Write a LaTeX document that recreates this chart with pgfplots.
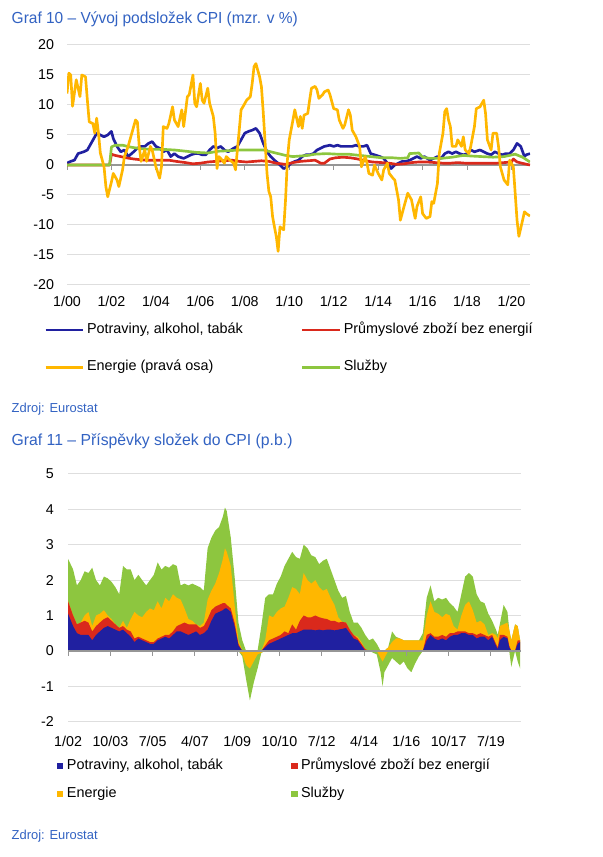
\documentclass[border=0pt]{standalone}
\usepackage{fontspec}
\setmainfont{Liberation Sans}
\usepackage{graphicx}
\usepackage{pgfplots}
\usepackage{pgfplotstable}
\pgfplotsset{compat=1.18}

\definecolor{titleblue}{RGB}{50,98,194}
\definecolor{gridgray}{RGB}{222,222,222}
\definecolor{zerogray}{RGB}{150,150,150}
\definecolor{cblue}{RGB}{32,32,160}
\definecolor{cred}{RGB}{218,41,28}
\definecolor{corange}{RGB}{255,183,0}
\definecolor{cgreen}{RGB}{141,198,63}

% ---------- Graf 10 data (x = months since 1/2000) ----------
\pgfplotstableread{
x y
0 0.3
2 0.6
4 0.8
6 1.9
9 2.2
11 2.5
13 3.6
15 4.7
16 5.3
18 5.0
20 4.7
22 5.0
24 5.6
25 4.4
27 3.1
29 2.2
31 2.5
33 1.4
36 2.2
38 2.8
40 3.1
42 3.1
44 3.6
46 3.9
48 3.1
50 2.8
52 2.2
54 2.5
56 1.4
58 1.9
60 1.4
63 1.1
65 1.4
67 1.7
69 1.9
71 1.9
73 1.7
75 1.7
77 2.5
79 3.1
81 2.8
83 3.1
85 2.5
87 2.2
90 2.8
92 3.1
94 4.2
96 5.3
98 5.6
100 5.8
102 6.1
104 5.3
106 3.6
108 2.2
110 1.4
112 0.8
114 0.3
117 -0.6
119 -0.3
121 0.3
123 0.6
125 0.8
127 1.4
129 1.7
131 1.7
133 1.9
135 2.5
137 2.8
139 3.1
142 3.3
144 3.1
146 3.3
148 3.1
150 3.1
152 3.1
154 3.1
156 3.3
158 3.1
160 3.1
162 3.3
164 1.9
166 1.7
169 1.4
171 1.1
173 0.3
175 -0.6
177 0.0
179 0.3
181 0.6
183 0.6
185 0.8
187 1.1
189 1.4
191 1.1
193 1.4
196 0.8
198 1.1
200 1.4
202 1.1
204 1.9
206 2.2
208 1.9
210 2.2
212 1.9
214 1.7
216 1.9
218 2.5
220 2.2
223 2.5
225 2.2
227 1.9
229 1.7
231 2.2
233 1.9
235 1.7
237 1.9
239 1.9
241 2.5
243 3.6
245 3.1
247 1.4
248 1.7
250 1.9
}\food

\pgfplotstableread{
x y
0 0
23 0
24 1.8
26 1.6
29 1.4
32 1.2
36 1.0
39 0.9
43 0.8
47 0.8
51 0.8
55 0.8
59 0.6
64 0.4
68 0.2
72 0.3
76 0.5
80 0.6
84 0.7
89 0.8
93 0.6
97 0.5
101 0.6
105 0.7
109 0.6
113 0.3
118 0.1
122 0.4
126 0.6
130 0.7
134 0.8
137 0.3
139 0.3
142 1.0
145 1.2
149 1.3
153 1.2
157 1.0
161 0.7
165 0.5
170 0.4
174 0.3
178 0.1
182 0.2
186 0.4
190 0.5
194 0.5
199 0.4
203 0.3
207 0.3
211 0.4
215 0.3
219 0.3
224 0.3
228 0.3
232 0.3
236 0.4
240 0.5
241 1.0
243 0.5
247 0.2
250 0.0
}\industry

\pgfplotstableread{
x y
0 11.9
1 15.3
2 15.0
3 9.8
4 12.0
5 14.2
7 11.4
8 15.0
10 14.7
11 10.8
12 7.2
14 6.9
15 5.3
16 7.8
17 5.3
18 2.0
20 -0.3
21 -3.6
22 -5.3
24 -2.8
25 -1.4
27 -2.5
28 -3.6
30 -0.8
31 1.4
33 3.1
35 5.3
37 7.5
38 7.2
39 3.1
40 0.6
42 2.5
43 0.6
45 3.1
46 2.5
48 -0.3
50 -2.2
51 -0.3
52 6.4
54 6.1
55 6.9
57 9.7
58 7.5
60 6.4
62 9.2
63 6.4
65 11.4
66 11.7
68 15.0
69 10.3
70 9.7
72 13.6
73 10.8
74 10.3
76 12.8
77 10.3
79 8.1
80 5.3
81 -0.6
82 1.4
83 1.1
85 0.3
86 1.4
88 0.8
90 0.3
91 -0.8
92 2.5
94 9.2
95 9.7
97 10.8
98 11.1
99 11.4
100 13.6
101 16.4
102 16.9
104 14.7
105 13.0
106 8.6
107 3.6
108 -1.4
109 -4.4
110 -5.3
111 -8.6
112 -10.3
113 -11.9
114 -14.4
115 -10.3
117 -10.8
118 -5.8
119 0.8
120 4.2
122 7.5
123 9.2
125 6.4
126 8.1
127 6.1
128 8.3
130 8.6
131 10.8
132 12.8
134 13.1
135 12.5
136 11.1
138 11.7
139 12.2
141 12.5
142 11.7
144 9.4
146 9.2
147 7.5
149 6.1
150 6.7
152 9.2
153 8.3
154 5.8
156 4.7
158 3.1
159 -0.3
161 1.4
162 0.3
163 -1.4
165 -1.7
166 0.0
168 -1.4
170 -2.5
171 -0.8
173 0.3
174 -1.4
176 -2.2
177 -2.5
179 -5.8
180 -9.2
182 -6.9
183 -5.8
184 -4.7
186 -5.8
188 -8.9
189 -6.9
191 -5.3
192 -8.1
194 -8.9
196 -8.6
197 -6.1
198 -6.4
200 -3.1
201 1.9
203 5.3
204 8.9
205 9.4
206 7.5
207 6.4
208 3.1
210 3.1
211 4.2
213 3.1
214 4.7
215 2.5
217 1.9
218 3.1
220 6.4
221 9.4
223 9.7
225 10.8
226 8.6
227 4.2
229 2.5
230 5.3
232 5.3
233 3.1
234 -0.3
236 -2.5
238 -3.3
239 0.8
241 -0.3
242 -4.7
243 -9.2
244 -11.9
246 -9.2
247 -7.8
248 -8.1
250 -8.5
}\energy

\pgfplotstableread{
x y
0 0
23 0
24 3.0
26 3.3
30 3.3
34 3.0
40 2.7
46 2.6
52 2.6
58 2.5
64 2.3
70 2.1
76 2.0
82 2.3
88 2.4
94 2.5
100 2.5
106 2.5
110 2.2
114 1.9
118 1.6
122 1.4
126 1.5
130 1.6
134 1.8
140 1.9
146 1.8
152 1.8
158 1.6
164 1.4
170 1.2
176 1.2
180 1.1
184 1.2
185 1.9
190 2.0
192 1.3
196 1.1
202 1.1
208 1.3
214 1.6
218 1.5
224 1.4
230 1.3
236 1.4
242 1.8
246 1.3
250 0.5
}\services

% ---------- Graf 11 data (x = months since 1/2002) ----------
% visible tops of the stacked layers above zero (bp, rp, op, gp)
% and visible bottoms of the layers below zero (on, gn), p.b.
\pgfplotstableread{
x bp rp op gp on gn
0 1.05 1.4 1.4 2.6 0 0
2.5 0.7 1.0 1.0 2.3 0 0
4.4 0.5 0.75 0.75 1.85 0 0
6.3 0.45 0.8 0.8 2.0 0 0
8.2 0.45 0.85 1.0 2.25 0 0
10.1 0.45 0.8 1.1 2.2 0 0
12.0 0.3 0.55 0.7 2.35 0 0
13.9 0.45 0.7 1.0 2.0 0 0
15.8 0.55 0.8 1.05 1.85 0 0
17.8 0.65 0.9 1.15 2.1 0 0
19.7 0.7 0.95 1.0 2.05 0 0
21.6 0.65 0.85 0.9 1.95 0 0
23.5 0.6 0.75 0.75 1.8 0 0
25.4 0.55 0.65 0.65 1.6 0 0
27.3 0.6 0.7 0.85 2.4 0 0
29.2 0.5 0.6 0.65 2.3 0 0
31.1 0.4 0.55 0.9 2.3 0 0
33.0 0.25 0.35 1.1 2.0 0 0
34.9 0.35 0.4 1.0 2.15 0 0
36.8 0.3 0.35 0.95 2.0 0 0
38.8 0.25 0.3 1.1 1.85 0 0
40.7 0.2 0.25 1.2 2.0 0 0
42.6 0.2 0.25 1.15 2.15 0 0
44.5 0.3 0.35 1.4 2.5 0 0
46.4 0.35 0.4 1.2 2.3 0 0
48.3 0.4 0.45 1.5 2.4 0 0
50.2 0.35 0.45 1.4 2.35 0 0
52.1 0.45 0.55 1.6 2.45 0 0
54.0 0.55 0.7 1.5 2.4 0 0
55.9 0.55 0.75 1.45 1.85 0 0
57.8 0.5 0.8 1.2 1.9 0 0
59.8 0.45 0.75 0.9 1.85 0 0
61.7 0.5 0.75 0.85 1.9 0 0
63.6 0.55 0.75 0.75 1.85 0 0
65.5 0.45 0.65 0.7 1.8 0 0
67.4 0.5 0.7 0.8 1.7 0 0
69.3 0.6 0.9 1.45 2.9 0 0
71.2 0.85 1.15 1.7 3.2 0 0
73.1 1.05 1.25 1.9 3.4 0 0
75.0 1.1 1.3 2.2 3.5 0 0
76.9 1.15 1.35 2.6 3.8 0 0
77.9 1.2 1.35 2.9 4.05 0 0
78.8 1.2 1.3 2.8 3.95 0 0
80.8 1.1 1.2 2.4 3.2 0 0
82.7 0.7 0.8 1.3 2.1 0 0
84.6 0.15 0.2 0.3 0.8 0 0
86.5 0 0 0 0.3 -0.1 -0.15
88.4 0 0 0 0 -0.4 -0.8
90.3 0 0 0 0 -0.5 -1.4
92.2 0 0 0 0 -0.3 -0.9
94.1 0 0 0 0 -0.1 -0.5
96.0 0 0 0 0.7 -0.05 -0.05
97.9 0.1 0.15 0.3 1.5 0 0
99.8 0.2 0.3 1.0 1.6 0 0
101.8 0.25 0.35 0.95 1.6 0 0
103.7 0.3 0.4 1.1 1.9 0 0
105.6 0.35 0.45 1.2 2.1 0 0
107.5 0.4 0.55 1.25 2.4 0 0
109.4 0.45 0.5 1.5 2.6 0 0
111.3 0.5 0.75 1.8 2.8 0 0
113.2 0.5 0.6 1.75 2.65 0 0
115.1 0.55 0.85 1.6 2.6 0 0
117.0 0.6 1.0 2.2 3.0 0 0
118.9 0.6 0.95 2.0 2.9 0 0
120.8 0.6 0.95 1.9 2.7 0 0
122.8 0.58 1.0 2.0 2.65 0 0
124.7 0.6 0.95 1.8 2.45 0 0
126.6 0.58 0.92 1.7 2.55 0 0
128.5 0.6 0.9 1.75 2.6 0 0
130.4 0.6 0.85 1.5 2.3 0 0
132.3 0.58 0.85 1.3 2.0 0 0
134.2 0.6 0.8 0.95 1.7 0 0
136.1 0.62 0.82 0.82 1.5 0 0
138.0 0.65 0.8 0.8 1.55 0 0
139.9 0.5 0.6 0.6 1.1 0 0
141.8 0.35 0.45 0.45 0.8 0 0
143.8 0.3 0.35 0.4 0.8 0 0
145.7 0.15 0.2 0.25 0.65 0 0
147.6 0 0.05 0.05 0.45 0 0
149.5 0 0 0 0.3 0 0
151.4 0 0 0 0.35 0 -0.05
153.3 0 0 0 0.2 0 -0.1
155.2 0 0 0 0 -0.2 -0.6
156.2 0 0 0 0 -0.3 -1.0
157.1 0 0 0 0 -0.2 -0.6
159.0 0 0 0.1 0.1 0 -0.4
160.9 0 0 0.25 0.55 0 -0.2
162.8 0 0 0.35 0.4 0 -0.3
164.8 0 0 0.35 0.35 0 -0.4
166.7 0 0 0.3 0.3 0 -0.3
168.6 0 0 0.3 0.3 0 -0.5
170.5 0 0 0.3 0.3 0 -0.6
172.4 0 0 0.3 0.3 0 -0.35
174.3 0 0 0.3 0.3 0 -0.15
176.2 0 0 0.3 0.5 0 0
178.1 0.3 0.45 1.0 1.5 0 0
180.0 0.45 0.5 1.4 1.85 0 0
181.9 0.35 0.4 1.1 1.4 0 0
183.8 0.3 0.4 1.05 1.5 0 0
185.8 0.35 0.45 0.95 1.45 0 0
187.7 0.3 0.4 1.05 1.5 0 0
189.6 0.4 0.5 1.0 1.35 0 0
191.5 0.45 0.5 0.7 1.25 0 0
193.4 0.45 0.55 0.6 1.1 0 0
195.3 0.5 0.55 1.0 1.6 0 0
197.2 0.5 0.55 1.3 2.1 0 0
199.1 0.45 0.5 1.4 2.2 0 0
201.0 0.45 0.5 1.15 2.1 0 0
202.9 0.35 0.45 0.8 1.6 0 0
204.8 0.4 0.5 0.85 1.4 0 0
206.8 0.4 0.45 0.75 1.35 0 0
208.7 0.3 0.4 0.45 1.05 0 0
210.6 0.4 0.45 0.5 0.85 0 0
212.5 0.15 0.2 0.45 0.6 0 0
213.4 0.05 0.1 0.35 0.45 0 0
214.4 0.3 0.45 0.7 0.75 0 0
216.3 0.4 0.45 0.75 1.3 0 0
218.2 0.35 0.4 0.8 1.1 0 0
219.1 0.1 0.15 0.6 0.6 0 0
220.1 0 0 0.3 0.3 0 -0.45
222.0 0 0 0.75 0.75 0 0
223.3 0.2 0.3 0.7 0.7 0 -0.3
224.5 0.25 0.3 0.3 0.3 0 -0.5
}\contrib

\newcommand{\tickfont}{\fontsize{10.7pt}{12pt}\selectfont}
\newcommand{\legfont}{\fontsize{10.8pt}{12pt}\selectfont}

\begin{document}
\begin{tikzpicture}
\path[use as bounding box] (0,0) rectangle (452.25pt,642.75pt);

% titles and sources
\node[anchor=base west, inner sep=0pt, text=titleblue] at (8.6pt,624.75pt)
  {\resizebox{214.5pt}{\height}{\fontsize{12pt}{14pt}\selectfont Graf 10 – Vývoj podsložek CPI (mzr. v \%)}};
\node[anchor=base west, inner sep=0pt, text=titleblue] at (8.6pt,333.2pt)
  {\resizebox{64.4pt}{\height}{\fontsize{9.75pt}{11pt}\selectfont Zdroj: Eurostat}};
\node[anchor=base west, inner sep=0pt, text=titleblue] at (8.6pt,308.25pt)
  {\resizebox{210.6pt}{\height}{\fontsize{12pt}{14pt}\selectfont Graf 11 – Příspěvky složek do CPI (p.b.)}};
\node[anchor=base west, inner sep=0pt, text=titleblue] at (8.6pt,12.75pt)
  {\resizebox{64.4pt}{\height}{\fontsize{9.75pt}{11pt}\selectfont Zdroj: Eurostat}};

% ---------------- Graf 10 ----------------
\begin{axis}[
  at={(50.25pt,429pt)}, anchor=south west,
  scale only axis, width=347.25pt, height=180pt,
  xmin=0, xmax=250, ymin=-20, ymax=20,
  axis line style={draw=none}, tick style={draw=none},
  ytick={-20,-15,-10,-5,0,5,10,15,20},
  yticklabels={-20,-15,-10,-5,0,5,10,15,20},
  xtick={0,24,48,72,96,120,144,168,192,216,240},
  xticklabels={1/00,1/02,1/04,1/06,1/08,1/10,1/12,1/14,1/16,1/18,1/20},
  tick label style={font=\tickfont},
  yticklabel style={xshift=-6.25pt},
  xticklabel style={yshift=-5pt},
  ymajorgrids, grid style={draw=gridgray, line width=0.75pt},
  legend columns=2,
  legend cell align=left,
  legend image code/.code={\draw[#1, line width=2.2pt] (0pt,0pt) -- (28pt,0pt);},
  legend style={at={(-0.0495,-0.2652)}, anchor=west, draw=none, fill=none,
    inner sep=0pt, outer sep=0pt, font=\legfont,
    nodes={inner sep=0pt, text height=7.6pt, text depth=2.6pt},
    row sep=17.8pt,
    /tikz/every odd column/.append style={column sep=2pt},
    /tikz/every even column/.append style={column sep=43.5pt}},
]
\draw[zerogray, line width=1.1pt] (axis cs:0,0) -- (axis cs:250,0);
\pgfplotsinvokeforeach{0,24,48,72,96,120,144,168,192,216,240}{
  \draw[zerogray, line width=0.75pt] (axis cs:#1,0) -- ++(0pt,-3.75pt);
}
\addplot[cblue, line width=2pt, line join=round, forget plot] table[x=x,y=y] {\food};
\addplot[cred, line width=2pt, line join=round, forget plot] table[x=x,y=y] {\industry};
\addplot[cgreen, line width=2pt, line join=round, forget plot] table[x=x,y=y] {\services};
\addplot[corange, line width=2pt, line join=round, forget plot] table[x=x,y=y] {\energy};
\addlegendimage{draw=cblue}
\addlegendentry{Potraviny, alkohol, tabák}
\addlegendimage{draw=cred}
\addlegendentry{Průmyslové zboží bez energií}
\addlegendimage{draw=corange}
\addlegendentry{Energie (pravá osa)}
\addlegendimage{draw=cgreen}
\addlegendentry{Služby}
\end{axis}

% ---------------- Graf 11 ----------------
\begin{axis}[
  at={(51.05pt,101.5pt)}, anchor=south west,
  scale only axis, width=339.8pt, height=185.8pt,
  xmin=0, xmax=225, ymin=-2, ymax=5,
  axis line style={draw=none}, tick style={draw=none},
  ytick={-2,-1,0,1,2,3,4,5},
  yticklabels={-2,-1,0,1,2,3,4,5},
  xtick={0,21,42,63,84,105,126,147,168,189,210},
  xticklabels={1/02,10/03,7/05,4/07,1/09,10/10,7/12,4/14,1/16,10/17,7/19},
  tick label style={font=\tickfont},
  yticklabel style={xshift=-7.2pt},
  xticklabel style={yshift=-7.5pt},
  ymajorgrids, grid style={draw=gridgray, line width=0.75pt},
  legend columns=2,
  legend cell align=left,
  legend image code/.code={\fill[#1, draw=none] (0pt,-2.45pt) rectangle (4.9pt,2.45pt);},
  legend style={at={(-0.0245,-0.2354)}, anchor=west, draw=none, fill=none,
    inner sep=0pt, outer sep=0pt, font=\legfont,
    nodes={inner sep=0pt, text height=7.6pt, text depth=2.6pt},
    row sep=10.8pt,
    /tikz/every odd column/.append style={column sep=2.6pt},
    /tikz/every even column/.append style={column sep=51.2pt}},
]
% layers above zero, outermost first
\addplot[fill=cgreen, draw=none, forget plot] table[x=x,y=gp] {\contrib} \closedcycle;
\addplot[fill=corange, draw=none, forget plot] table[x=x,y=op] {\contrib} \closedcycle;
\addplot[fill=cred, draw=none, forget plot] table[x=x,y=rp] {\contrib} \closedcycle;
\addplot[fill=cblue, draw=none, forget plot] table[x=x,y=bp] {\contrib} \closedcycle;
% layers below zero
\addplot[fill=cgreen, draw=none, forget plot] table[x=x,y=gn] {\contrib} \closedcycle;
\addplot[fill=corange, draw=none, forget plot] table[x=x,y=on] {\contrib} \closedcycle;
\draw[zerogray, line width=1.1pt] (axis cs:0,0) -- (axis cs:225,0);
\pgfplotsinvokeforeach{0,21,42,63,84,105,126,147,168,189,210}{
  \draw[zerogray, line width=0.75pt] (axis cs:#1,0) -- ++(0pt,-3.75pt);
}
\addlegendimage{fill=cblue, draw=none}
\addlegendentry{Potraviny, alkohol, tabák}
\addlegendimage{fill=cred, draw=none}
\addlegendentry{Průmyslové zboží bez energií}
\addlegendimage{fill=corange, draw=none}
\addlegendentry{Energie}
\addlegendimage{fill=cgreen, draw=none}
\addlegendentry{Služby}
\end{axis}
\end{tikzpicture}
\end{document}
